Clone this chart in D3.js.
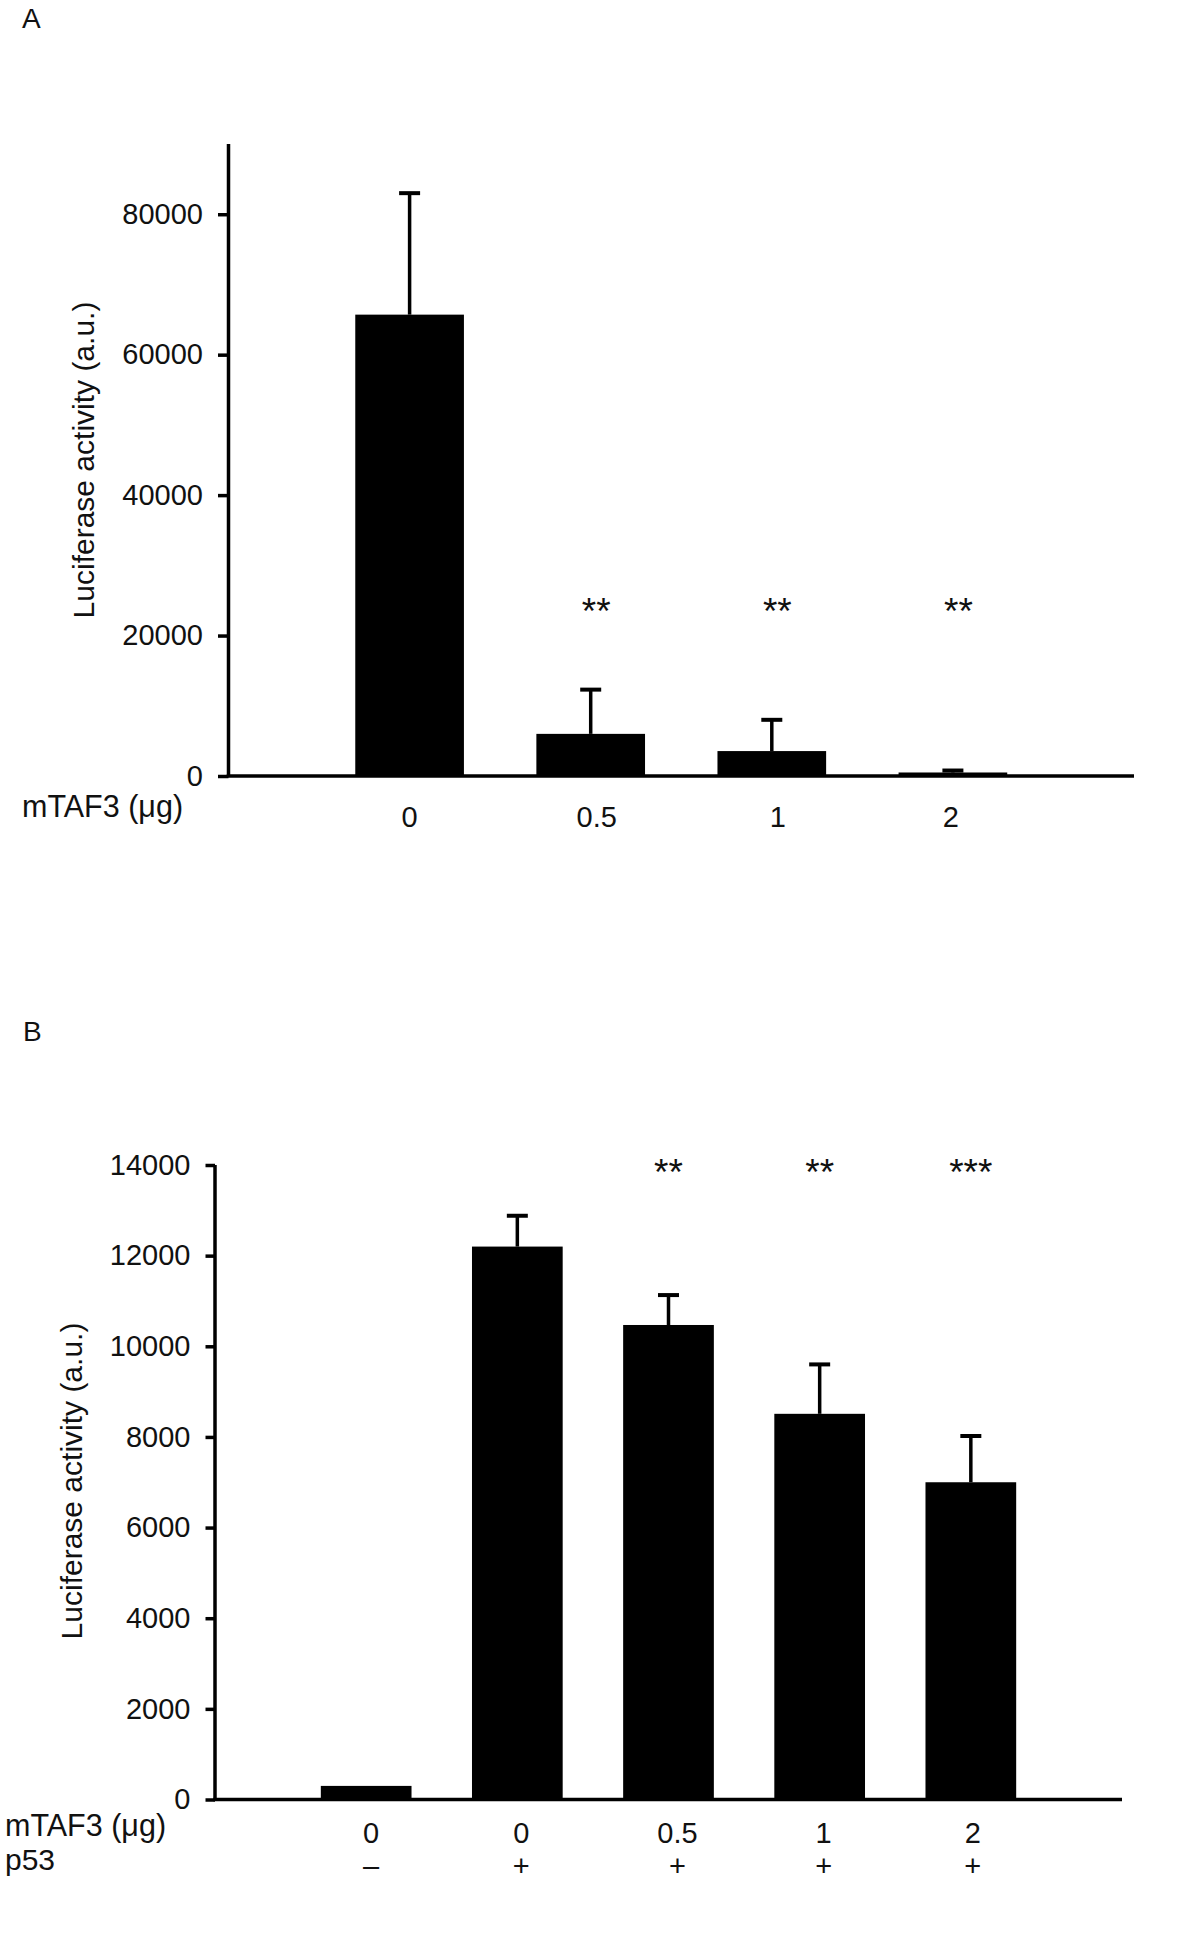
<!DOCTYPE html>
<html>
<head>
<meta charset="utf-8">
<script src="https://cdn.jsdelivr.net/npm/d3@7"></script>
<style>
  html, body { margin: 0; padding: 0; background: #fff; }
  svg { display: block; }
  text { font-family: "Liberation Sans", Arial, Helvetica, sans-serif; fill: #111; }
</style>
</head>
<body>
<svg id="chart" width="1200" height="1956"></svg>
<script>
// ---------- Panel A data ----------
const catsA = ["0", "0.5", "1", "2"];
const valuesA = [65700, 6000, 3550, 500];
const errTopA = [83000, 12300, 8000, 780];
const starsA = ["", "**", "**", "**"];
const ticksA = [0, 20000, 40000, 60000, 80000];

// ---------- Panel B data ----------
const catsB = ["c1", "c2", "c3", "c4", "c5"];
const taf3B = ["0", "0", "0.5", "1", "2"];
const p53B = ["–", "+", "+", "+", "+"];
const valuesB = [300, 12200, 10470, 8510, 7000];
const errTopB = [null, 12880, 11130, 9600, 8020];
const starsB = ["", "", "**", "**", "***"];
const ticksB = [0, 2000, 4000, 6000, 8000, 10000, 12000, 14000];

const yTitle = "Luciferase activity (a.u.)";
const taf3Label = "mTAF3 (\u03bcg)";

const svg = d3.select("#chart");
const STROKE = 3.5;

function panel(cfg) {
  const g = svg.append("g");
  const x = d3.scalePoint().domain(cfg.cats).range([cfg.x0, cfg.x1]).padding(1);
  const y = d3.scaleLinear().domain(cfg.yDomain).range([cfg.yBase, cfg.yTop]);
  const bw = x.step() * 0.6;

  // y axis
  const ya = g.append("g")
    .attr("transform", `translate(${cfg.x0},0)`)
    .call(d3.axisLeft(y).tickValues(cfg.ticks).tickFormat(d3.format("d"))
      .tickSize(cfg.tickSize).tickSizeOuter(0).tickPadding(cfg.tickPad));
  ya.select(".domain").attr("stroke", "#000").attr("stroke-width", STROKE)
    .attr("d", `M0,${cfg.yTop}V${cfg.yBase}`);
  ya.selectAll(".tick line").attr("stroke", "#000").attr("stroke-width", STROKE);
  ya.selectAll(".tick text").attr("font-size", 29).attr("fill", "#111")
    .style("font-family", "'Liberation Sans', Arial, sans-serif");

  // bars
  g.selectAll("rect.bar").data(cfg.values).enter().append("rect")
    .attr("class", "bar")
    .attr("x", (d, i) => x(cfg.cats[i]) - bw / 2)
    .attr("width", bw)
    .attr("y", d => y(d))
    .attr("height", d => y(0) - y(d))
    .attr("fill", "#000");

  // error bars
  cfg.errTop.forEach((e, i) => {
    if (e == null) return;
    const cx = x(cfg.cats[i]);
    g.append("line").attr("x1", cx).attr("x2", cx)
      .attr("y1", y(cfg.values[i])).attr("y2", y(e))
      .attr("stroke", "#000").attr("stroke-width", STROKE);
    g.append("line").attr("x1", cx - 10.5).attr("x2", cx + 10.5)
      .attr("y1", y(e)).attr("y2", y(e))
      .attr("stroke", "#000").attr("stroke-width", 4);
  });

  // x axis line
  g.append("line").attr("x1", cfg.x0 - 1.75).attr("x2", cfg.x1)
    .attr("y1", y(0)).attr("y2", y(0))
    .attr("stroke", "#000").attr("stroke-width", STROKE);

  // stars
  g.selectAll("text.star").data(cfg.stars).enter().append("text")
    .attr("class", "star")
    .attr("x", (d, i) => x(cfg.cats[i]) + cfg.starDx)
    .attr("y", cfg.starY)
    .attr("text-anchor", "middle")
    .attr("font-size", 37)
    .text(d => d);

  // y title
  g.append("text")
    .attr("transform", `translate(${cfg.titleX},${cfg.titleY}) rotate(-90)`)
    .attr("text-anchor", "middle")
    .attr("font-size", 30)
    .text(yTitle);

  return { x, y };
}

// ---------- Panel A ----------
svg.append("text").attr("x", 22).attr("y", 28).attr("font-size", 28).text("A");
const A = panel({
  cats: catsA, values: valuesA, errTop: errTopA, stars: starsA, ticks: ticksA,
  x0: 228.5, x1: 1134, yBase: 776, yTop: 144, yDomain: [0, 90000],
  tickSize: 10.5, tickPad: 15, starY: 624, starDx: 5.5, titleX: 94, titleY: 460
});
const dxA = { "0": 0, "0.5": 6, "1": 6, "2": -2 };
svg.append("g").selectAll("text").data(catsA).enter().append("text")
  .attr("x", d => A.x(d) + dxA[d])
  .attr("y", 827).attr("text-anchor", "middle").attr("font-size", 29)
  .text(d => d);
svg.append("text").attr("x", 22).attr("y", 817).attr("font-size", 30.5).text(taf3Label);

// ---------- Panel B ----------
svg.append("text").attr("x", 23).attr("y", 1041).attr("font-size", 28).text("B");
const B = panel({
  cats: catsB, values: valuesB, errTop: errTopB, stars: starsB, ticks: ticksB,
  x0: 215, x1: 1122, yBase: 1799.5, yTop: 1165, yDomain: [0, 14000],
  tickSize: 9.5, tickPad: 15, starY: 1185, starDx: 0, titleX: 82, titleY: 1481
});
const dxB = [5, 4, 9, 4, 2];
svg.append("g").selectAll("text").data(catsB).enter().append("text")
  .attr("x", (d, i) => B.x(d) + dxB[i])
  .attr("y", 1843).attr("text-anchor", "middle").attr("font-size", 29)
  .text((d, i) => taf3B[i]);
svg.append("g").selectAll("text").data(catsB).enter().append("text")
  .attr("x", (d, i) => B.x(d) + dxB[i])
  .attr("y", 1876).attr("text-anchor", "middle").attr("font-size", 29)
  .text((d, i) => p53B[i]);
svg.append("text").attr("x", 5).attr("y", 1836).attr("font-size", 30.5).text(taf3Label);
svg.append("text").attr("x", 5).attr("y", 1870).attr("font-size", 30).text("p53");
</script>
</body>
</html>
